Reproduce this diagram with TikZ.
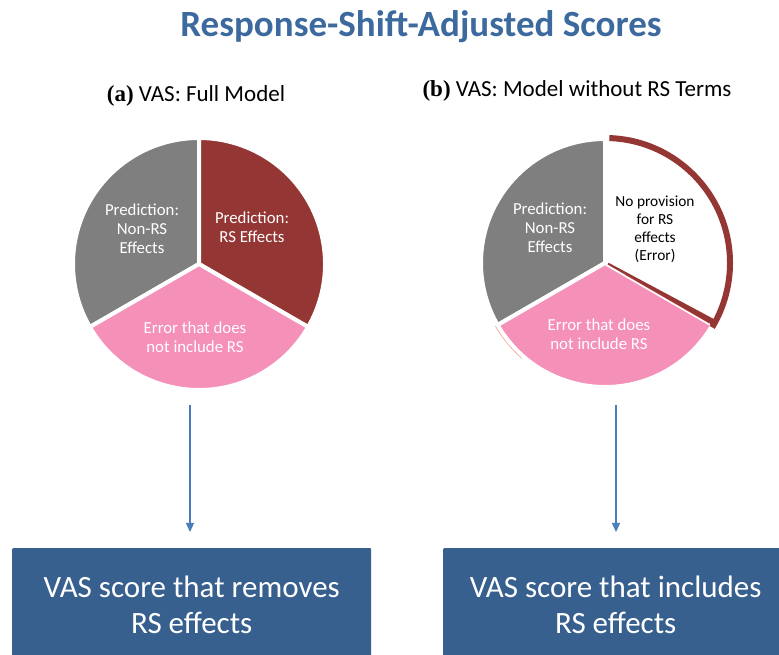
\documentclass[tikz,border=0pt]{standalone}
\usepackage{fontspec}
\setmainfont{Carlito}
\newfontfamily\serifbold{Liberation Serif}
\usetikzlibrary{arrows.meta}

\definecolor{titleblue}{HTML}{3D6A9E}
\definecolor{boxblue}{HTML}{38608F}
\definecolor{arrowblue}{HTML}{4A7EBB}
\definecolor{rsred}{HTML}{943634}
\definecolor{errpink}{HTML}{F590B9}
\definecolor{predgrey}{HTML}{7F7F7F}
\definecolor{salmon}{HTML}{F4A09C}

\tikzset{
  slice/.style={draw=white, line width=4pt, line join=round},
  wlabel/.style={text=white, align=center, font=\fontsize{16.8}{19}\selectfont, inner sep=0pt},
  blabel/.style={text=black, align=center, font=\fontsize{15.4}{18}\selectfont, inner sep=0pt},
  sublabel/.style={anchor=base, font=\fontsize{23}{27}\selectfont, inner sep=0pt},
  scorebox/.style={fill=boxblue, text=white, align=center, anchor=north west,
    font=\fontsize{31}{36}\selectfont, inner sep=0pt, rounded corners=1pt},
  flow/.style={arrowblue, line width=1.3pt, -{Triangle[width=8pt,length=9pt]}},
}

\begin{document}
\begin{tikzpicture}[x=1pt,y=1pt]
\useasboundingbox (0,0) rectangle (779,655);

% title and panel captions
\node[anchor=base, text=titleblue, font=\fontsize{37}{44}\selectfont\bfseries, inner sep=0pt]
  (title) at (421,618) {Response-Shift-Adjusted Scores};
\node[sublabel] (capA) at (196,553) {{\serifbold\bfseries (a)} VAS: Full Model};
\node[sublabel] (capB) at (577,558) {{\serifbold\bfseries (b)} VAS: Model without RS Terms};

% ---- pie (a): full model ----
\coordinate (pa) at (199,391);
\filldraw[slice, fill=predgrey] (pa) -- ++(90:126pt) arc[start angle=90, end angle=210, radius=126pt] -- cycle;
\filldraw[slice, fill=rsred] (pa) -- ++(-30:126pt) arc[start angle=-30, end angle=90, radius=126pt] -- cycle;
\filldraw[slice, fill=errpink] (pa) -- ++(210:126pt) arc[start angle=210, end angle=330, radius=126pt] -- cycle;

\node[wlabel] (aNon) at (142,426) {Prediction:\\Non-RS\\Effects};
\node[wlabel] (aRS) at (252,428) {Prediction:\\RS Effects};
\node[wlabel] (aErr) at (195,317.5) {Error that does\\not include RS};

% ---- pie (b): model without RS terms ----
\coordinate (pb) at (605,392);
\filldraw[slice, fill=predgrey] (pb) -- ++(90:124pt) arc[start angle=90, end angle=210, radius=124pt] -- cycle;
\fill[white] (pb) -- ++(-30:124pt) arc[start angle=-30, end angle=90, radius=124pt] -- cycle;
% faint outline showing behind the error slice
\draw[salmon, line width=1.6pt] ([shift={(210:126pt)}]pb) arc[start angle=210, end angle=229, radius=126pt];
\filldraw[slice, fill=errpink] (pb) -- ++(210:124pt) arc[start angle=210, end angle=330, radius=124pt] -- cycle;
\draw[salmon, line width=0.8pt] ([shift={(20,-11.5)}]pb) -- ([shift={(104.5,-60.3)}]pb);
% outline of the unmodelled RS slice
\draw[rsred, line width=6pt] ([shift={(88:125pt)}]pb) arc[start angle=88, end angle=-31, radius=125pt];
\fill[rsred] ([shift={(2.6,-1.5)}]pb) -- ([shift={(109.1,-63)}]pb) -- ([shift={(112.1,-57.8)}]pb)
  -- ([shift={(3.6,0.2)}]pb) -- cycle;

\node[wlabel] (bNon) at (550,427) {Prediction:\\Non-RS\\Effects};
\node[blabel] (bNo) at (655,426) {No provision\\for RS\\effects\\(Error)};
\node[wlabel] (bErr) at (599,321) {Error that does\\not include RS};

% ---- resulting scores ----
\node[scorebox, minimum width=359pt, minimum height=114pt] (boxA) at (12,107)
  {VAS score that removes\\RS effects};
\node[scorebox, minimum width=345pt, minimum height=114pt] (boxB) at (443,107)
  {VAS score that includes\\RS effects};

\coordinate (arrA) at (190,250);
\coordinate (arrB) at (616,250);
\draw[flow, shorten >=16pt] (arrA) -- (arrA |- boxA.north);
\draw[flow, shorten >=16pt] (arrB) -- (arrB |- boxB.north);
\end{tikzpicture}
\end{document}
